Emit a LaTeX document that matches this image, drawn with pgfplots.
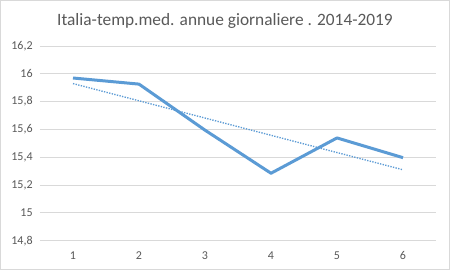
\documentclass[border=0pt]{standalone}
\usepackage{fontspec}
\setmainfont{Carlito}
\usepackage{pgfplots}
\pgfplotsset{compat=1.18}
\definecolor{lineblue}{HTML}{5B9BD5}
\definecolor{gridgrey}{HTML}{D9D9D9}
\definecolor{textgrey}{HTML}{595959}
\definecolor{bordergrey}{HTML}{D9D9D9}
\begin{document}
\begin{tikzpicture}
\draw[draw=bordergrey, line width=0.75pt, fill=white] (0.375pt,0.375pt) rectangle (337.125pt,202.125pt);
\node[text=textgrey, font=\fontsize{13}{15}\selectfont] at (168.75pt,186.75pt) {Italia-temp.med. annue giornaliere . 2014-2019};
\begin{axis}[
  at={(30pt,21.98pt)}, anchor=south west,
  scale only axis, width=297pt, height=146pt,
  xmin=0.5, xmax=6.5, ymin=14.8, ymax=16.2,
  xtick={1,2,3,4,5,6},
  ytick={14.8,15,15.2,15.4,15.6,15.8,16,16.2},
  axis line style={draw=none},
  ymajorgrids, grid style={gridgrey, line width=0.75pt},
  major tick length=0pt,
  ticklabel style={font=\fontsize{9}{11}\selectfont, text=textgrey},
  yticklabel style={xshift=-2pt, /pgf/number format/.cd, use comma, fixed, 1000 sep={}},
  xticklabel style={yshift=-4.5pt},
  /pgf/number format/assume math mode=true,
  clip=false,
]
\addplot[lineblue, line width=2.25pt, line join=round, mark=none] coordinates {
  (1,15.97) (2,15.926) (3,15.595) (4,15.285) (5,15.539) (6,15.397)
};
\addplot[lineblue, line width=1pt, dash pattern=on 1pt off 1pt, mark=none] coordinates {
  (1,15.93) (6,15.31)
};
\end{axis}
\end{tikzpicture}
\end{document}
